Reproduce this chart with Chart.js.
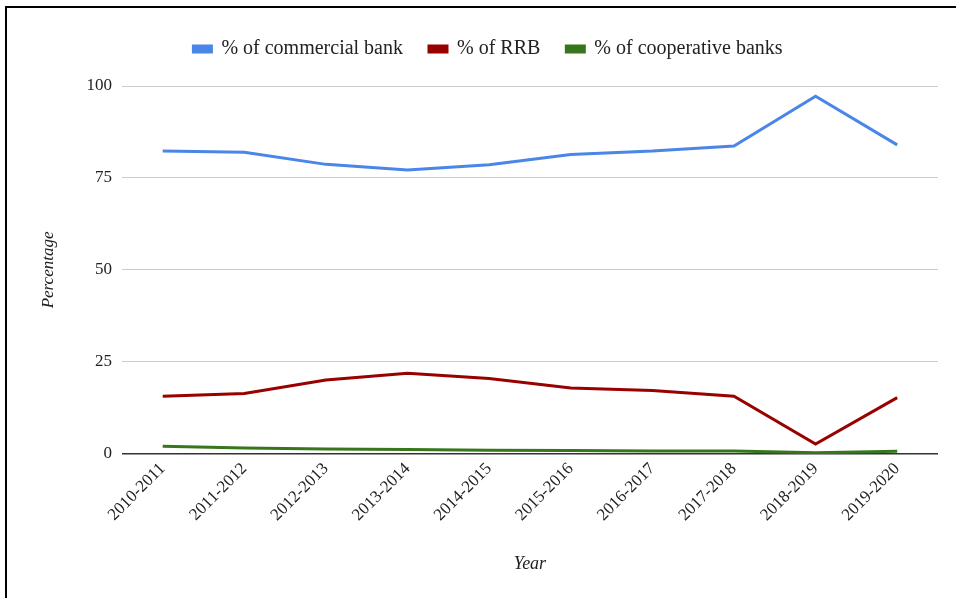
<!DOCTYPE html>
<html>
<head>
<meta charset="utf-8">
<script src="https://cdn.jsdelivr.net/npm/chart.js@4/dist/chart.umd.min.js"></script>
<style>
  html, body { margin: 0; padding: 0; background: #fff; }
  #frame { position: absolute; left: 5px; top: 6px; width: 951px; height: 592px;
           border-top: 2px solid #000; border-left: 2px solid #000; box-sizing: border-box; }
  #wrap { position: absolute; left: 0; top: 0; width: 956px; height: 598px; }
</style>
</head>
<body>
<div id="frame"></div>
<div id="wrap"><canvas id="c" width="956" height="598"></canvas></div>
<script>
const categories = ["2010-2011","2011-2012","2012-2013","2013-2014","2014-2015","2015-2016","2016-2017","2017-2018","2018-2019","2019-2020"];
const commercialBank = [82.3, 82.0, 78.7, 77.2, 78.6, 81.4, 82.3, 83.7, 97.2, 84.0];
const rrb = [15.7, 16.4, 20.1, 21.9, 20.5, 17.9, 17.2, 15.7, 2.7, 15.3];
const cooperativeBanks = [2.1, 1.6, 1.3, 1.2, 1.0, 0.9, 0.8, 0.8, 0.3, 0.7];
const seriesNames = ["% of commercial bank", "% of RRB", "% of cooperative banks"];
const yTicks = [0, 25, 50, 75, 100];

const SERIF = "'Liberation Serif', 'DejaVu Serif', serif";

const legendSpacer = {
  id: 'legendSpacer',
  beforeInit(chart) {
    const origFit = chart.legend.fit;
    chart.legend.fit = function () {
      origFit.call(this);
      this.height += 17;
    };
  }
};

new Chart(document.getElementById('c'), {
  type: 'line',
  data: {
    labels: categories,
    datasets: [
      { label: seriesNames[0], data: commercialBank, borderColor: '#4a86e8', backgroundColor: '#4a86e8' },
      { label: seriesNames[1], data: rrb, borderColor: '#990000', backgroundColor: '#990000' },
      { label: seriesNames[2], data: cooperativeBanks, borderColor: '#38761d', backgroundColor: '#38761d' }
    ].map(d => Object.assign(d, { borderWidth: 3, pointRadius: 0, tension: 0, fill: false }))
  },
  plugins: [legendSpacer],
  options: {
    responsive: false,
    animation: false,
    layout: { padding: { top: 13, right: 18, left: 38, bottom: 23 } },
    plugins: {
      legend: {
        position: 'top',
        align: 'center',
        labels: {
          boxWidth: 18, boxHeight: 6, padding: 26,
          color: '#222',
          font: { family: SERIF, size: 20 }
        }
      },
      tooltip: { enabled: false }
    },
    scales: {
      x: {
        offset: true,
        grid: { display: false, drawTicks: false },
        border: { display: false },
        ticks: {
          minRotation: 45, maxRotation: 45, padding: 5,
          color: '#222', font: { family: SERIF, size: 17 }
        },
        title: {
          display: true, text: 'Year', color: '#222',
          font: { family: SERIF, size: 18, style: 'italic' },
          padding: { top: 23, bottom: 0 }
        }
      },
      y: {
        min: 0, max: 100,
        afterBuildTicks: (axis) => { axis.ticks = yTicks.map(v => ({ value: v })); },
        grid: {
          drawTicks: false,
          color: (ctx) => ctx.tick && ctx.tick.value === 0 ? '#333' : '#cccccc',
          lineWidth: (ctx) => ctx.tick && ctx.tick.value === 0 ? 1.5 : 1
        },
        border: { display: false },
        ticks: { padding: 10, color: '#222', font: { family: SERIF, size: 17 } },
        title: {
          display: true, text: 'Percentage', color: '#222',
          font: { family: SERIF, size: 17, style: 'italic' },
          padding: { top: 0, bottom: 18 }
        }
      }
    }
  }
});
</script>
</body>
</html>
